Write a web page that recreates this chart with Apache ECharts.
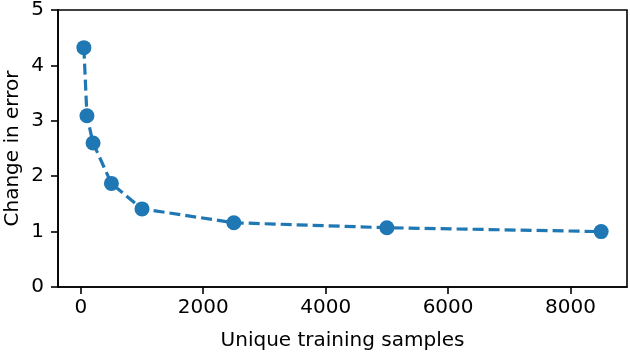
<!DOCTYPE html>
<html>
<head>
<meta charset="utf-8">
<script src="https://cdn.jsdelivr.net/npm/echarts@6/dist/echarts.min.js"></script>
<style>
  html, body { margin: 0; padding: 0; background: #fff; }
  #chart { width: 630px; height: 352px; }
</style>
</head>
<body>
<div id="chart"></div>
<script>
// values
const samples = [50, 100, 200, 500, 1000, 2500, 5000, 8500];
const errorChange = [4.32, 3.09, 2.60, 1.87, 1.41, 1.16, 1.07, 1.0];
const xTicks = [0, 2000, 4000, 6000, 8000];

const font = "DejaVu Sans";
const chart = echarts.init(document.getElementById("chart"));

chart.setOption({
  animation: false,
  grid: {
    left: 58,
    right: 3,
    top: 10,
    bottom: 65,
    containLabel: false,
    outerBoundsMode: "none",
    show: true,
    borderColor: "#000",
    borderWidth: 1.6,
    backgroundColor: "transparent"
  },
  xAxis: {
    type: "value",
    min: -372.5,
    max: 8922.5,
    name: "Unique training samples",
    nameLocation: "middle",
    nameGap: 44,
    nameMoveOverlap: false,
    nameTextStyle: { fontFamily: font, fontSize: 20, color: "#000" },
    axisLine: { show: true, onZero: false, lineStyle: { color: "#000", width: 1.6 } },
    axisTick: {
      show: true,
      length: 7,
      customValues: xTicks,
      lineStyle: { color: "#000", width: 1.6 }
    },
    axisLabel: {
      margin: 11,
      customValues: xTicks,
      formatter: v => String(v),
      fontFamily: font,
      fontSize: 20,
      color: "#000"
    },
    splitLine: { show: false }
  },
  yAxis: {
    type: "value",
    min: 0,
    max: 5,
    interval: 1,
    name: "Change in error",
    nameLocation: "middle",
    nameGap: 35,
    nameMoveOverlap: false,
    nameTextStyle: { fontFamily: font, fontSize: 20, color: "#000" },
    axisLine: { show: true, onZero: false, lineStyle: { color: "#000", width: 1.6 } },
    axisTick: { show: true, length: 7, lineStyle: { color: "#000", width: 1.6 } },
    axisLabel: { margin: 14, fontFamily: font, fontSize: 20, color: "#000" },
    splitLine: { show: false }
  },
  series: [
    {
      type: "line",
      data: samples.map((s, i) => [s, errorChange[i]]),
      symbol: "circle",
      symbolSize: 15,
      itemStyle: { color: "#1f77b4" },
      lineStyle: { color: "#1f77b4", width: 3.2, type: [11, 5] }
    }
  ]
});
</script>
</body>
</html>
